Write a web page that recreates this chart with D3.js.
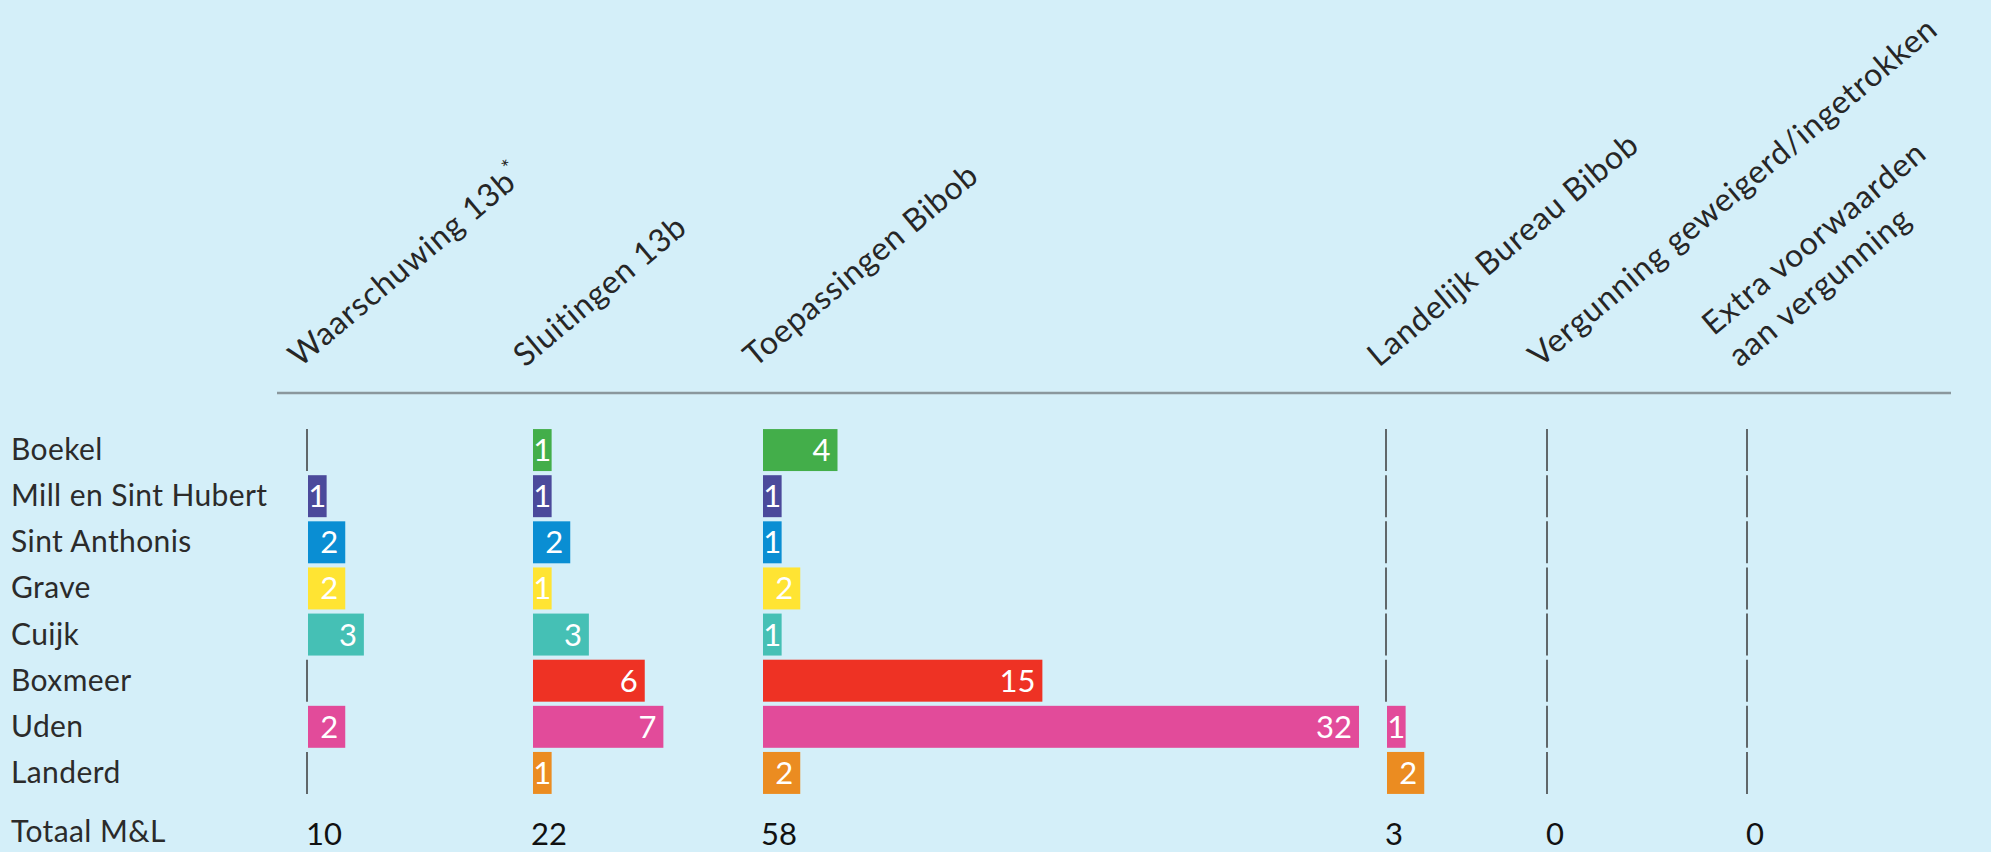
<!DOCTYPE html>
<html>
<head>
<meta charset="utf-8">
<script src="https://cdn.jsdelivr.net/npm/d3@7"></script>
<style>
  body { margin: 0; background: #d4eff9; }
  svg { display: block; font-family: Lato, sans-serif; }
</style>
</head>
<body>
<div id="chart"></div>
<script>
const municipalities = ['Boekel', 'Mill en Sint Hubert', 'Sint Anthonis', 'Grave', 'Cuijk', 'Boxmeer', 'Uden', 'Landerd'];
const measures = ['Waarschuwing 13b*', 'Sluitingen 13b', 'Toepassingen Bibob', 'Landelijk Bureau Bibob',
                  'Vergunning geweigerd/ingetrokken', 'Extra voorwaarden\naan vergunning'];

const waarschuwing = [0, 1, 2, 2, 3, 0, 2, 0];
const sluitingen = [1, 1, 2, 1, 3, 6, 7, 1];
const toepassingen = [4, 1, 1, 2, 1, 15, 32, 2];
const landelijkBureau = [0, 0, 0, 0, 0, 0, 1, 2];
const vergunningGeweigerd = [0, 0, 0, 0, 0, 0, 0, 0];
const extraVoorwaarden = [0, 0, 0, 0, 0, 0, 0, 0];
const totals = [10, 22, 58, 3, 0, 0];
const totalLabel = 'Totaal M&L';

const series = [waarschuwing, sluitingen, toepassingen, landelijkBureau, vergunningGeweigerd, extraVoorwaarden];

// layout
const chartWidth = 1991;
const chartHeight = 852;
const colX = [307, 532, 762, 1386, 1547, 1747];
const barColours = ['#43ae4a', '#4b4a9b', '#0a8ed3', '#ffe433', '#45c0b5', '#ee3224', '#e24b9a', '#eb8c21'];

const svg = d3.select('#chart')
            .append('svg')
            .attr('width', chartWidth)
            .attr('height', chartHeight);

const yScale = d3.scaleBand()
            .domain(municipalities)
            .range([427, 796])
            .paddingInner(0.09)
            .paddingOuter(0.045);

const xScale = d3.scaleLinear()
            .domain([0, 32])
            .range([0, 596]);

const colour = d3.scaleOrdinal().domain(municipalities).range(barColours);
const colScale = d3.scaleOrdinal().domain(measures).range(colX);

const plotHeaders = () => {
    svg.append('line')
        .attr('x1', 277).attr('x2', 1951)
        .attr('y1', 393).attr('y2', 393)
        .attr('stroke', '#8a979d')
        .attr('stroke-width', 2.5);

    const heads = svg.selectAll('g.head')
        .data(measures)
        .enter()
        .append('g')
        .attr('class', 'head')
        .attr('transform', d => 'translate(' + (colScale(d) - 7) + ', 368) rotate(-40)');

    heads.each(function (d) {
        const lines = d.split('\n');
        const text = d3.select(this).append('text')
            .attr('font-size', 32)
            .attr('fill', '#262626')
            .attr('letter-spacing', 0.9);
        lines.forEach((line, i) => {
            const y = -41 * (lines.length - 1 - i);
            const star = line.endsWith('*');
            text.append('tspan')
                .attr('x', 0)
                .attr('y', y)
                .text(star ? line.slice(0, -1) : line);
            if (star) {
                text.append('tspan')
                    .attr('font-size', 21)
                    .attr('dy', -13)
                    .text('*');
            }
        });
    });
};

const plotRows = () => {
    svg.selectAll('text.row')
        .data(municipalities)
        .enter()
        .append('text')
        .attr('class', 'row')
        .attr('x', 11)
        .attr('y', d => yScale(d) + yScale.bandwidth() / 2 + 10)
        .attr('font-size', 30)
        .attr('letter-spacing', 0.4)
        .attr('fill', '#2b2b2b')
        .text(d => d);

    svg.append('text')
        .attr('x', 11)
        .attr('y', 842)
        .attr('font-size', 30)
        .attr('letter-spacing', 0.4)
        .attr('fill', '#2b2b2b')
        .text(totalLabel);
};

const plotData = () => {
    series.forEach((values, c) => {
        const x0 = colScale(measures[c]);
        const cells = values.map((v, r) => ({ name: municipalities[r], value: v }));
        const g = svg.append('g');

        g.selectAll('line')
            .data(cells.filter(d => d.value === 0))
            .enter()
            .append('line')
            .attr('x1', x0).attr('x2', x0)
            .attr('y1', d => yScale(d.name))
            .attr('y2', d => yScale(d.name) + yScale.bandwidth())
            .attr('stroke', '#3a3a3a')
            .attr('stroke-width', 1.5);

        const bars = cells.filter(d => d.value > 0);

        g.selectAll('rect')
            .data(bars)
            .enter()
            .append('rect')
            .attr('x', x0 + 1)
            .attr('y', d => yScale(d.name))
            .attr('width', d => xScale(d.value))
            .attr('height', yScale.bandwidth())
            .attr('fill', d => colour(d.name));

        g.selectAll('text')
            .data(bars)
            .enter()
            .append('text')
            .attr('x', d => xScale(d.value) < 30 ? x0 + 1 + xScale(d.value) / 2 : x0 + 1 + xScale(d.value) - 7)
            .attr('y', d => yScale(d.name) + yScale.bandwidth() / 2 + 11)
            .attr('text-anchor', d => xScale(d.value) < 30 ? 'middle' : 'end')
            .attr('font-size', 31)
            .attr('fill', '#ffffff')
            .text(d => d.value);
    });
};

const plotTotals = () => {
    svg.selectAll('text.total')
        .data(totals)
        .enter()
        .append('text')
        .attr('class', 'total')
        .attr('x', (d, i) => colX[i] - 1)
        .attr('y', 845)
        .attr('font-size', 31)
        .attr('fill', '#111111')
        .text(d => d);
};

plotHeaders();
plotRows();
plotData();
plotTotals();
</script>
</body>
</html>
